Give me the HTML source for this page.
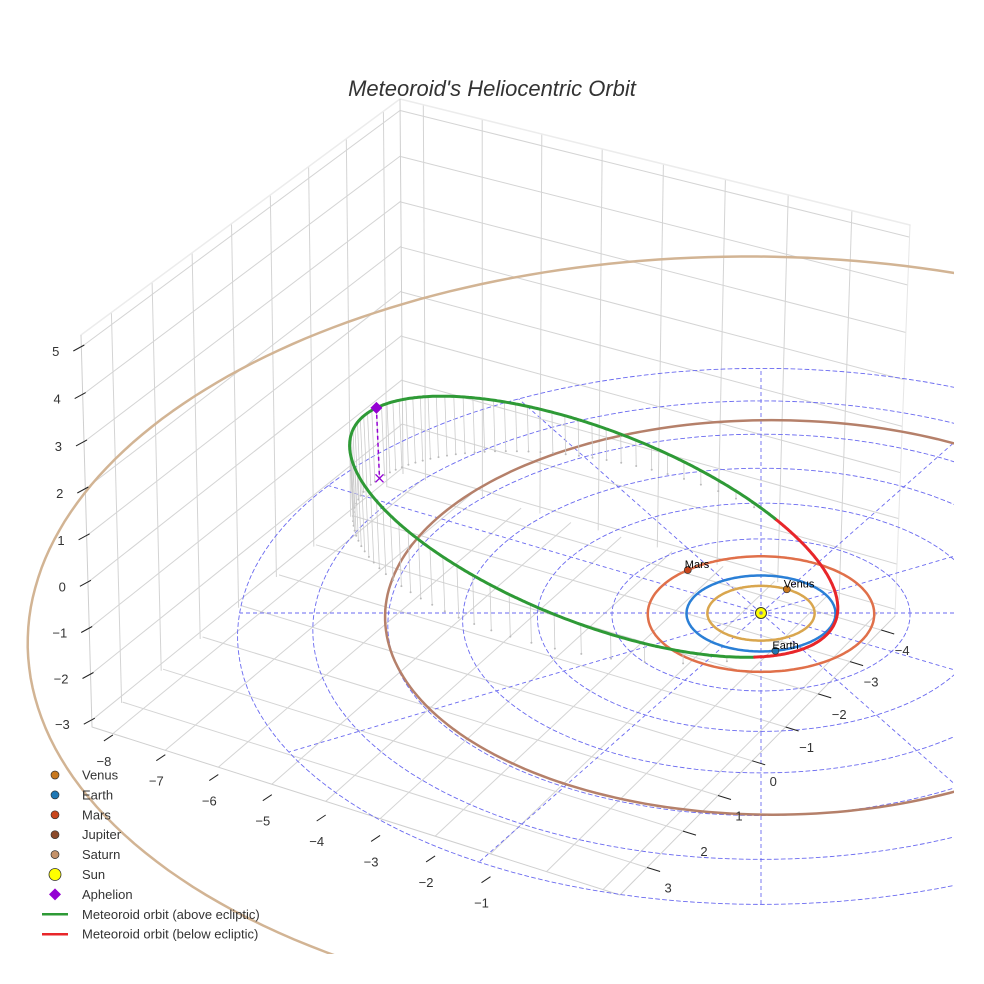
<!DOCTYPE html>
<html><head><meta charset="utf-8"><title>Meteoroid's Heliocentric Orbit</title>
<style>
html,body{margin:0;padding:0;background:#fff;}
svg{display:block;font-family:"Liberation Sans",Arial,sans-serif;}
</style></head>
<body>
<svg id="chart" width="984" height="984" viewBox="0 0 984 984" xmlns="http://www.w3.org/2000/svg">
<rect x="0" y="0" width="984" height="984" fill="#ffffff"/>
<defs><clipPath id="sceneClip"><rect x="0" y="0" width="954" height="954"/></clipPath></defs>
<text x="492" y="96" text-anchor="middle" font-size="22" font-style="italic" fill="#333">Meteoroid's Heliocentric Orbit</text>
<g id="scene" clip-path="url(#sceneClip)"></g>
<g id="ticks"></g>
<g id="legend"></g>
</svg>
<script>
// ---------- data ----------
const xTicks = [-8,-7,-6,-5,-4,-3,-2,-1];
const xGridFloor = [-8,-7,-6,-5,-4,-3,-2,-1,0,1];
const xGridWall = [-8,-7,-6,-5,-4,-3,-2,-1];
const yTicks = [-4,-3,-2,-1,0,1,2,3];
const zTicks = [-3,-2,-1,0,1,2,3,4,5];
const planetNames = ["Venus","Earth","Mars","Jupiter","Saturn"];
const planetRadii = [0.72,1.0,1.52,5.2,9.54];
const planetCenterU = [0,0,0,0.15,-0.3];
const planetCenterV = [0,0,0,-0.22,-0.5];
const planetTiltAmp = [0,0,0,0,-0.4];
const planetTiltPhaseDeg = [0,0,0,0,100];
const planetAnglesDeg = [-61,79,-131,null,null];
const planetOrbitColors = ["#d9a64e","#2a7fd6","#e0704a","#b5806a","#d2b494"];
const planetMarkerColors = ["#c8781e","#1f77b4","#c8461c","#8b4a2b","#c4926a"];
const gridRadii = [1,2,3,4,5,6,7];
const gridAnglesDeg = [0,30,60,90,120,150,180,210,240,270,300,330];
// meteoroid orbital elements
const orbitA = 3.71;
const orbitE = 0.757;
const orbitP = [0.822,0.569,-0.23];
const orbitQ = [0.569,-0.822,-0.133];
const dropSamples = 80;

// ---------- projection ----------
const CAM = {cx:761, cy:613, F:5140, D:69, sa:0.51, ca:0.86, zs:0.75};
function proj(u,v,z){
  const zd = z*CAM.zs;
  const depth = CAM.D - v*CAM.ca - zd*CAM.sa;
  return [CAM.cx + CAM.F*u/depth, CAM.cy + CAM.F*(v*CAM.sa - zd*CAM.ca)/depth];
}
function homog(p0,p1,p2,p3){
  const dx1=p1[0]-p2[0], dx2=p3[0]-p2[0], dx3=p0[0]-p1[0]+p2[0]-p3[0];
  const dy1=p1[1]-p2[1], dy2=p3[1]-p2[1], dy3=p0[1]-p1[1]+p2[1]-p3[1];
  const den=dx1*dy2-dx2*dy1;
  const g=(dx3*dy2-dx2*dy3)/den, h=(dx1*dy3-dx3*dy1)/den;
  const a=p1[0]-p0[0]+g*p1[0], b=p3[0]-p0[0]+h*p3[0], c=p0[0];
  const d=p1[1]-p0[1]+g*p1[1], e=p3[1]-p0[1]+h*p3[1], f=p0[1];
  return (s,t)=>{const w=g*s+h*t+1;return [(a*s+b*t+c)/w,(d*s+e*t+f)/w];};
}
const Lb=[92,727], Lt=[81,335], Bb=[403,474], Bt=[400,99], Rb=[895,616], Rt=[910,225], Fb=[620,895];
const leftWall = homog(Lb,Bb,Bt,Lt);
const rightWall = homog(Bb,Rb,Rt,Bt);
const floorW = homog(Lb,Fb,Rb,Bb);
const zT = z => (z+3.15)/8.4;
const yS = y => (3.74-y)/8.19;
const xWall = x => (x+8.4)/8.3;
const xFloor = x => (x+8.4)/9.7;

const NS="http://www.w3.org/2000/svg";
const scene=document.getElementById('scene');
const ticksG=document.getElementById('ticks');
const legendG=document.getElementById('legend');
function mk(tag,attrs,parent,name,inter){
  const el=document.createElementNS(NS,tag);
  for(const k in attrs) el.setAttribute(k,attrs[k]);
  
  
  parent.appendChild(el);return el;
}
function seg(p,q,stroke,w,parent,name,dash){
  const a={x1:p[0].toFixed(1),y1:p[1].toFixed(1),x2:q[0].toFixed(1),y2:q[1].toFixed(1),stroke:stroke,'stroke-width':w};
  if(dash) a['stroke-dasharray']=dash;
  return mk('line',a,parent,name,false);
}
function poly(pts,stroke,w,parent,name,dash){
  const d=pts.map((p,i)=>(i?'L':'M')+p[0].toFixed(1)+' '+p[1].toFixed(1)).join('');
  const a={d:d,fill:'none',stroke:stroke,'stroke-width':w,'stroke-linejoin':'round','stroke-linecap':'round'};
  if(dash) a['stroke-dasharray']=dash;
  return mk('path',a,parent,name,false);
}
const GRID="#d4d4d4";
const boxG=mk('g',{},scene,'axis-box',false);
yTicks.forEach(y=>seg(leftWall(yS(y),0),leftWall(yS(y),1),GRID,1,boxG,'left-wall-gridline-y'));
zTicks.forEach(z=>seg(leftWall(0,zT(z)),leftWall(1,zT(z)),GRID,1,boxG,'left-wall-gridline-z'));
xGridWall.forEach(x=>seg(rightWall(xWall(x),0),rightWall(xWall(x),1),GRID,1,boxG,'back-wall-gridline-x'));
zTicks.forEach(z=>seg(rightWall(0,zT(z)),rightWall(1,zT(z)),GRID,1,boxG,'back-wall-gridline-z'));
xGridFloor.forEach(x=>seg(floorW(xFloor(x),0),floorW(xFloor(x),1),GRID,1,boxG,'floor-gridline-x'));
yTicks.forEach(y=>seg(floorW(0,yS(y)),floorW(1,yS(y)),GRID,1,boxG,'floor-gridline-y'));
poly([Lt,Bt,Rt],"#ececec",1.5,boxG,'box-top-edge');
seg(Bt,Bb,"#cfcfcf",1,boxG,'box-back-edge');
seg(Lt,Lb,"#cfcfcf",1,boxG,'box-left-edge');
seg(Rt,Rb,"#e6e6e6",1,boxG,'box-right-edge');
poly([Lb,Fb,Rb],"#cfcfcf",1,boxG,'box-floor-front-edge');

// ---------- ecliptic polar grid ----------
const eclG=mk('g',{},scene,'ecliptic-grid',false);
const GC="#6a6af0";
gridRadii.forEach(r=>{
  const pts=[];for(let k=0;k<=180;k++){const t=k/180*2*Math.PI;pts.push(proj(r*Math.cos(t),r*Math.sin(t),0));}
  poly(pts,GC,0.9,eclG,'ecliptic-grid-circle','4,3');
});
const rMax=gridRadii[gridRadii.length-1];
gridAnglesDeg.forEach(a=>{
  const t=a*Math.PI/180;
  seg(proj(0,0,0),proj(rMax*Math.cos(t),rMax*Math.sin(t),0),GC,0.9,eclG,'ecliptic-grid-radial','4,3');
});

// ---------- planet orbits ----------
const orbG=mk('g',{},scene,'planet-orbits',false);
planetRadii.forEach((r,i)=>{
  const pts=[];
  for(let k=0;k<=240;k++){
    const t=k/240*2*Math.PI;
    const z=planetTiltAmp[i]*Math.cos(t-planetTiltPhaseDeg[i]*Math.PI/180);
    pts.push(proj(planetCenterU[i]+r*Math.cos(t),planetCenterV[i]+r*Math.sin(t),z));
  }
  poly(pts,planetOrbitColors[i],2.5,orbG,'orbit-'+planetNames[i].toLowerCase());
});

// ---------- meteoroid orbit ----------
function orbitPos(E){
  const xp=orbitA*(Math.cos(E)-orbitE), yp=orbitA*Math.sqrt(1-orbitE*orbitE)*Math.sin(E);
  return [xp*orbitP[0]+yp*orbitQ[0], xp*orbitP[1]+yp*orbitQ[1], xp*orbitP[2]+yp*orbitQ[2]];
}
function keplerE(M){let E=M;for(let k=0;k<30;k++){E=E-(E-orbitE*Math.sin(E)-M)/(1-orbitE*Math.cos(E));}return E;}
const dropG=mk('g',{},scene,'meteoroid-drop-lines',false);
for(let k=0;k<dropSamples;k++){
  const p=orbitPos(keplerE(k/dropSamples*2*Math.PI));
  if(p[2]>0.02){
    const a=proj(p[0],p[1],p[2]), b=proj(p[0],p[1],0);
    seg(a,b,"#cccccc",0.8,dropG,'drop-line');
    mk('circle',{cx:b[0].toFixed(1),cy:b[1].toFixed(1),r:1,fill:"#bbbbbb"},dropG,'drop-line-foot',false);
  }
}
const metG=mk('g',{},scene,'meteoroid-orbit',true);
{
  let cur=[],curSign=null;
  const N=600;
  for(let k=0;k<=N;k++){
    const p=orbitPos(k/N*2*Math.PI);
    const s=p[2]>=0;
    const q=proj(p[0],p[1],p[2]);
    if(curSign===null){curSign=s;cur.push(q);continue;}
    cur.push(q);
    if(s!==curSign){
      poly(cur,curSign?"#2e9a36":"#e8262a",3,metG,curSign?'orbit-above-ecliptic':'orbit-below-ecliptic');
      cur=[q];curSign=s;
    }
  }
  poly(cur,curSign?"#2e9a36":"#e8262a",3,metG,curSign?'orbit-above-ecliptic':'orbit-below-ecliptic');
}
{
  const p=orbitPos(Math.PI);
  const a=proj(p[0],p[1],p[2]), b=proj(p[0],p[1],0);
  seg(a,b,"#9400d3",1.5,scene,'aphelion-drop-line','4,3');
  const s=4;
  seg([b[0]-s,b[1]-s],[b[0]+s,b[1]+s],"#9400d3",1.3,scene,'aphelion-projection-x');
  seg([b[0]-s,b[1]+s],[b[0]+s,b[1]-s],"#9400d3",1.3,scene,'aphelion-projection-x');
  const d=6;
  mk('path',{d:`M${a[0]} ${a[1]-d}L${a[0]+d} ${a[1]}L${a[0]} ${a[1]+d}L${a[0]-d} ${a[1]}Z`,fill:"#9400d3"},scene,'aphelion-marker',true);
}
{
  const s=proj(0,0,0);
  mk('circle',{cx:s[0],cy:s[1],r:5.5,fill:"#ffff00",stroke:"#333",'stroke-width':1},scene,'sun-marker',true);
  mk('circle',{cx:s[0],cy:s[1],r:1.8,fill:"#8888aa"},scene,'sun-center',false);
}
planetAnglesDeg.forEach((ang,i)=>{
  if(ang===null) return;
  const t=ang*Math.PI/180,r=planetRadii[i];
  const p=proj(planetCenterU[i]+r*Math.cos(t),planetCenterV[i]+r*Math.sin(t),0);
  mk('circle',{cx:p[0].toFixed(1),cy:p[1].toFixed(1),r:3.5,fill:planetMarkerColors[i],stroke:"#333",'stroke-width':0.7},scene,'planet-'+planetNames[i].toLowerCase(),true);
  const tx=mk('text',{x:(p[0]-3).toFixed(1),y:(p[1]-2).toFixed(1),'font-size':11,fill:"#000"},scene,'planet-label-'+planetNames[i].toLowerCase(),false);
  tx.textContent=planetNames[i];
});

// ---------- ticks ----------
const fmt=v=>v<0?'\u2212'+(-v):String(v);
xTicks.forEach(x=>{
  const s=xFloor(x);
  const p0=floorW(s,0);
  const p=[p0[0],p0[1]+30*s];
  seg(p,[p[0]-9,p[1]+6],"#222",1,ticksG,'x-tick-mark');
  const t=mk('text',{x:(p[0]-9).toFixed(1),y:(p[1]+31).toFixed(1),'font-size':13,fill:"#333",'text-anchor':'middle'},ticksG,'x-tick-label',false);
  t.textContent=fmt(x);
});
yTicks.forEach(y=>{
  const p=floorW(1,yS(y));
  seg(p,[p[0]+13,p[1]+4],"#222",1,ticksG,'y-tick-mark');
  const t=mk('text',{x:(p[0]+21).toFixed(1),y:(p[1]+25).toFixed(1),'font-size':13,fill:"#333",'text-anchor':'middle'},ticksG,'y-tick-label',false);
  t.textContent=fmt(y);
});
zTicks.forEach(z=>{
  const p=leftWall(0,zT(z));
  seg([p[0]+3,p[1]-2],[p[0]-8,p[1]+4],"#222",1,ticksG,'z-tick-mark');
  const t=mk('text',{x:(p[0]-22).toFixed(1),y:(p[1]+9).toFixed(1),'font-size':13,fill:"#333",'text-anchor':'end'},ticksG,'z-tick-label',false);
  t.textContent=fmt(z);
});

// ---------- legend ----------
const legendLabels = ["Venus","Earth","Mars","Jupiter","Saturn","Sun","Aphelion","Meteoroid orbit (above ecliptic)","Meteoroid orbit (below ecliptic)"];
legendLabels.forEach((lab,i)=>{
  const y=775+i*19.9;
  const g=mk('g',{},legendG,'legend-entry',true);
  if(i<5){
    mk('circle',{cx:55,cy:y,r:4,fill:planetMarkerColors[i],stroke:"#333",'stroke-width':0.7},g,'legend-marker',false);
  } else if(i===5){
    mk('circle',{cx:55,cy:y,r:6,fill:"#ffff00",stroke:"#333",'stroke-width':0.8},g,'legend-marker',false);
  } else if(i===6){
    mk('path',{d:`M55 ${y-6}L61 ${y}L55 ${y+6}L49 ${y}Z`,fill:"#9400d3"},g,'legend-marker',false);
  } else {
    seg([42,y],[68,y],i===7?"#2e9a36":"#e8262a",2.5,g,'legend-line');
  }
  const t=mk('text',{x:82,y:y+4.5,'font-size':13,fill:"#333"},g,'legend-label',false);
  t.textContent=lab;
});
</script>
</body></html>
